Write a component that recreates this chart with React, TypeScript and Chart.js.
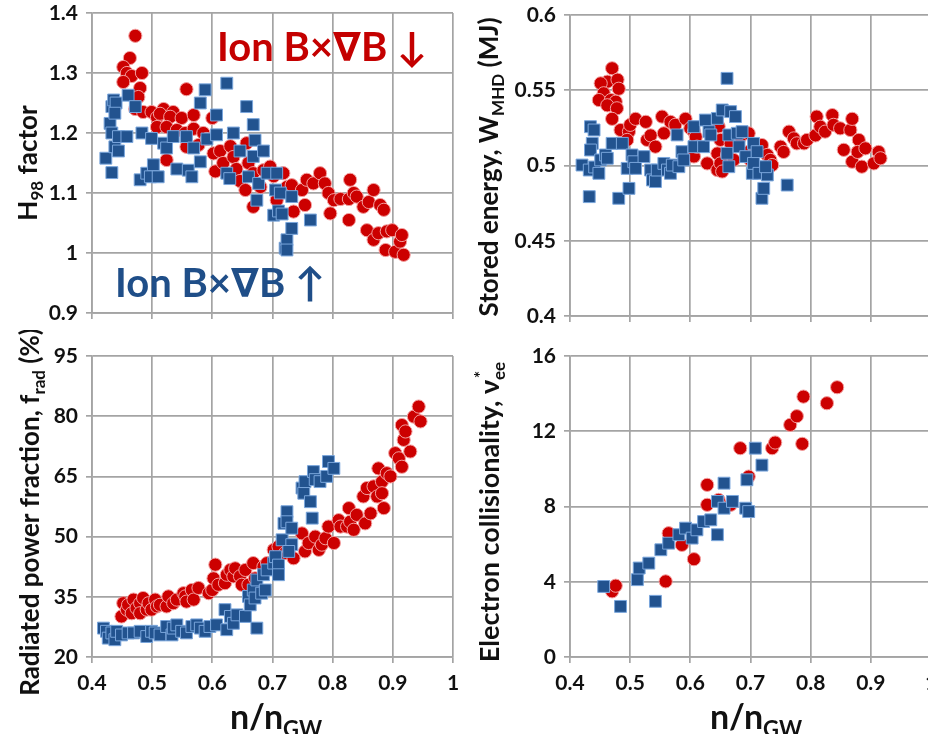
import React, { useEffect, useRef } from "react";
import { Chart, registerables } from "chart.js";
Chart.register(...registerables);

// ---------- DATA ----------
// Panel (a): H98 factor vs n/nGW
const h98RedX = [0.472,0.463,0.452,0.458,0.466,0.483,0.452,0.480,0.477,0.472,0.485,0.499,0.508,0.519,0.513,0.508,0.535,0.530,0.549,0.557,0.524,0.541,0.555,0.569,0.569,0.557,0.524,0.577,0.585,0.591,0.600,0.602,0.605,0.613,0.618,0.630,0.635,0.640,0.646,0.655,0.657,0.660,0.668,0.668,0.680,0.685,0.696,0.702,0.707,0.718,0.724,0.732,0.735,0.749,0.754,0.757,0.768,0.779,0.787,0.793,0.796,0.802,0.813,0.827,0.829,0.827,0.835,0.840,0.851,0.857,0.860,0.868,0.868,0.876,0.879,0.885,0.888,0.890,0.899,0.904,0.912,0.915,0.918];
const h98RedY = [1.362,1.325,1.310,1.300,1.295,1.300,1.285,1.275,1.260,1.240,1.235,1.235,1.226,1.240,1.232,1.210,1.235,1.227,1.225,1.273,1.210,1.205,1.200,1.230,1.207,1.177,1.155,1.180,1.200,1.190,1.225,1.166,1.136,1.170,1.150,1.178,1.160,1.140,1.120,1.105,1.183,1.150,1.133,1.077,1.110,1.138,1.144,1.128,1.088,1.133,1.110,1.113,1.069,1.105,1.080,1.122,1.116,1.133,1.116,1.100,1.066,1.088,1.090,1.055,1.122,1.090,1.100,1.094,1.077,1.038,1.085,1.105,1.022,1.033,1.080,1.072,1.005,1.036,1.038,1.002,1.019,1.030,0.997];
const h98BlueX = [0.423,0.433,0.430,0.433,0.436,0.440,0.438,0.433,0.438,0.444,0.444,0.460,0.458,0.472,0.483,0.480,0.491,0.499,0.502,0.497,0.510,0.519,0.524,0.535,0.541,0.557,0.560,0.566,0.569,0.580,0.580,0.588,0.591,0.607,0.607,0.624,0.624,0.629,0.635,0.646,0.657,0.660,0.668,0.668,0.671,0.674,0.677,0.685,0.691,0.702,0.705,0.707,0.713,0.710,0.716,0.721,0.724,0.732,0.732,0.763,0.724];
const h98BlueY = [1.158,1.134,1.216,1.244,1.255,1.250,1.233,1.200,1.177,1.194,1.170,1.263,1.194,1.244,1.200,1.122,1.133,1.191,1.147,1.127,1.127,1.183,1.175,1.194,1.140,1.194,1.138,1.127,1.175,1.152,1.250,1.272,1.190,1.230,1.197,1.283,1.133,1.124,1.200,1.170,1.244,1.127,1.214,1.161,1.188,1.088,1.116,1.170,1.133,1.063,1.105,1.133,1.100,1.070,1.065,1.008,1.022,1.094,1.041,1.055,1.005];

// Panel (b): stored energy WMHD (MJ)
const wRedX = [0.470,0.462,0.451,0.479,0.481,0.456,0.448,0.468,0.476,0.462,0.478,0.470,0.484,0.498,0.500,0.509,0.495,0.526,0.528,0.534,0.542,0.553,0.556,0.567,0.575,0.592,0.600,0.606,0.609,0.606,0.611,0.628,0.645,0.645,0.650,0.653,0.647,0.650,0.661,0.667,0.672,0.683,0.697,0.697,0.700,0.708,0.719,0.728,0.733,0.736,0.750,0.755,0.764,0.772,0.777,0.789,0.794,0.808,0.810,0.816,0.824,0.836,0.838,0.849,0.855,0.866,0.869,0.869,0.880,0.878,0.891,0.885,0.905,0.913,0.916];
const wRedY = [0.5646,0.5557,0.5546,0.557,0.551,0.548,0.5435,0.5435,0.5424,0.540,0.538,0.531,0.5236,0.5225,0.527,0.531,0.517,0.529,0.517,0.520,0.5125,0.5325,0.5214,0.529,0.527,0.531,0.5247,0.5225,0.519,0.506,0.5125,0.5014,0.508,0.497,0.5014,0.496,0.526,0.517,0.507,0.5147,0.5037,0.519,0.5214,0.509,0.5037,0.5104,0.5136,0.507,0.5037,0.5003,0.5125,0.509,0.5225,0.518,0.5147,0.5147,0.517,0.520,0.5325,0.5258,0.5225,0.5335,0.527,0.5247,0.5104,0.5236,0.531,0.5025,0.517,0.509,0.5114,0.4992,0.5014,0.509,0.5048];
const wBlueX = [0.420,0.432,0.434,0.440,0.437,0.434,0.432,0.441,0.448,0.451,0.459,0.462,0.470,0.487,0.481,0.498,0.495,0.503,0.506,0.509,0.523,0.534,0.537,0.542,0.545,0.556,0.562,0.567,0.570,0.578,0.581,0.586,0.589,0.606,0.606,0.622,0.625,0.631,0.634,0.645,0.653,0.661,0.661,0.664,0.664,0.667,0.675,0.678,0.681,0.686,0.692,0.703,0.705,0.705,0.711,0.714,0.719,0.722,0.728,0.725,0.761];
const wBlueY = [0.5003,0.4793,0.5258,0.5236,0.5147,0.5103,0.497,0.499,0.4948,0.5037,0.507,0.5048,0.5147,0.5147,0.4782,0.4848,0.4981,0.507,0.5025,0.4981,0.5059,0.497,0.4904,0.4893,0.497,0.5014,0.497,0.4948,0.5003,0.5203,0.4992,0.5092,0.5037,0.5258,0.5125,0.5125,0.5302,0.5225,0.5203,0.5313,0.5369,0.5579,0.5081,0.4992,0.5203,0.5358,0.5325,0.5214,0.5125,0.5225,0.5059,0.4948,0.5147,0.5014,0.5092,0.4948,0.4782,0.4848,0.4937,0.4992,0.487];

// Panel (c): radiated power fraction frad (%)
const fRedX = [0.449,0.452,0.458,0.460,0.466,0.469,0.474,0.480,0.480,0.485,0.491,0.494,0.499,0.505,0.508,0.513,0.524,0.527,0.535,0.541,0.552,0.555,0.557,0.566,0.569,0.577,0.594,0.600,0.602,0.605,0.610,0.621,0.624,0.630,0.635,0.638,0.646,0.649,0.655,0.660,0.668,0.671,0.685,0.691,0.702,0.710,0.721,0.727,0.735,0.749,0.754,0.760,0.771,0.777,0.782,0.788,0.793,0.802,0.810,0.813,0.824,0.827,0.829,0.835,0.840,0.851,0.854,0.857,0.863,0.868,0.874,0.876,0.882,0.882,0.885,0.890,0.896,0.904,0.910,0.915,0.915,0.918,0.921,0.929,0.935,0.943,0.946];
const fRedY = [30.1,33.4,31.8,33.0,30.9,34.3,32.2,33.4,30.9,34.7,31.8,33.4,31.8,34.3,32.6,33.0,32.6,35.1,33.4,34.3,35.9,35.1,33.8,36.7,34.3,37.2,35.9,36.7,39.6,43.0,38.0,38.4,40.5,41.7,40.1,42.1,40.1,38.0,41.7,38.0,43.4,39.6,42.5,43.4,46.7,47.5,45.9,46.7,44.6,50.8,46.3,48.4,50.0,46.7,48.0,49.6,52.5,48.4,54.1,52.5,52.5,57.1,53.7,51.7,55.4,60.0,53.3,62.1,55.8,62.5,60.0,67.0,63.7,60.8,57.1,65.8,65.0,70.8,69.5,67.4,77.8,74.1,76.2,71.2,79.9,82.4,78.7];
const fBlueX = [0.419,0.424,0.427,0.433,0.438,0.441,0.449,0.460,0.469,0.480,0.491,0.499,0.505,0.513,0.524,0.533,0.535,0.541,0.549,0.557,0.566,0.574,0.580,0.588,0.596,0.607,0.624,0.621,0.630,0.635,0.641,0.655,0.660,0.663,0.668,0.671,0.674,0.674,0.682,0.688,0.685,0.691,0.702,0.705,0.710,0.710,0.716,0.719,0.724,0.724,0.732,0.732,0.727,0.749,0.752,0.754,0.763,0.766,0.768,0.771,0.779,0.790,0.793,0.802];
const fBlueY = [27.2,26.4,24.7,26.0,24.3,26.4,25.5,26.0,26.0,26.4,25.1,26.4,26.0,25.5,27.6,25.5,27.2,28.0,26.4,26.0,27.6,28.0,27.2,26.4,27.6,28.0,26.8,31.8,30.1,28.4,30.5,30.1,35.1,33.0,36.7,34.7,27.2,39.2,35.9,36.7,40.5,41.7,43.4,45.0,42.9,40.5,49.2,53.3,56.2,53.7,52.1,48.0,46.3,62.1,60.8,63.7,58.7,54.6,66.2,64.2,63.7,65.0,68.7,67.0];

// Panel (d): electron collisionality
const nuRedX = [0.470,0.476,0.559,0.564,0.586,0.606,0.628,0.628,0.647,0.667,0.683,0.697,0.736,0.741,0.766,0.777,0.788,0.786,0.827,0.844];
const nuRedY = [3.49,3.79,4.02,6.58,5.96,5.20,9.15,8.09,8.35,8.09,11.1,9.59,11.1,11.4,12.34,12.8,13.84,11.33,13.49,14.34];
const nuBlueX = [0.456,0.484,0.512,0.515,0.531,0.542,0.551,0.564,0.581,0.592,0.603,0.611,0.622,0.634,0.645,0.645,0.656,0.656,0.670,0.692,0.694,0.697,0.708,0.719];
const nuBlueY = [3.75,2.69,4.11,4.73,4.99,2.96,5.70,6.05,6.50,6.85,6.32,6.76,7.20,7.29,8.27,6.50,9.24,7.91,8.27,7.91,9.42,7.73,11.1,10.2];

const xTicksMin = 0.4;
const xTicksMax = 1.0;

// ---------- STYLE ----------
const FONT = "Lato, 'Open Sans', 'DejaVu Sans', sans-serif";
const RED = "#c40000";
const BLUE_TXT = "#1f4e88";
const GRID = "#a4a4a4";

type Seg = { t: string; k?: "sub" | "sup" | "subsup"; t2?: string };
type Label = { segs: Seg[]; x: number; y: number; size: number; rot: boolean; color: string };

function drawRich(ctx: CanvasRenderingContext2D, l: Label) {
  const { segs, size } = l;
  ctx.save();
  ctx.translate(l.x, l.y);
  if (l.rot) ctx.rotate(-Math.PI / 2);
  const big = `bold ${size}px ${FONT}`;
  const small = `bold ${Math.round(size * 0.64)}px ${FONT}`;
  const widths = segs.map((s) => {
    ctx.font = s.k ? small : big;
    if (s.k === "subsup") return Math.max(ctx.measureText(s.t).width, ctx.measureText(s.t2 || "").width);
    return ctx.measureText(s.t).width;
  });
  const total = widths.reduce((a, b) => a + b, 0);
  let x = -total / 2;
  const base = size * 0.36;
  ctx.fillStyle = l.color;
  ctx.textAlign = "left";
  ctx.textBaseline = "alphabetic";
  segs.forEach((s, i) => {
    if (!s.k) {
      ctx.font = big;
      ctx.fillText(s.t, x, base);
    } else {
      ctx.font = small;
      if (s.k === "sub" || s.k === "subsup") ctx.fillText(s.t, x, base + size * 0.22);
      if (s.k === "sup") ctx.fillText(s.t, x, base - size * 0.45);
      if (s.k === "subsup") ctx.fillText(s.t2 || "", x + 2, base - size * 0.42);
    }
    x += widths[i];
  });
  ctx.restore();
}

const pts = (xs: number[], ys: number[]) => xs.map((x, i) => ({ x, y: ys[i] }));
const fmt = (v: any) => String(Number(Number(v).toFixed(3)));

type PanelProps = {
  left: number; top: number; width: number; height: number;
  padTop: number; padRight: number; yWidth: number; xHeight: number;
  yMin: number; yMax: number; yStep: number; showX: boolean;
  redX: number[]; redY: number[]; blueX: number[]; blueY: number[];
  labels: Label[];
};

function Panel(p: PanelProps) {
  const ref = useRef<HTMLCanvasElement>(null);
  useEffect(() => {
    const canvas = ref.current!;
    const richPlugin = {
      id: "rich",
      afterDraw(chart: any) {
        const ctx = chart.ctx as CanvasRenderingContext2D;
        p.labels.forEach((l) => drawRich(ctx, l));
      },
    };
    const chart = new Chart(canvas, {
      type: "scatter",
      data: {
        datasets: [
          {
            label: "Ion B×∇B ↑",
            data: pts(p.blueX, p.blueY),
            pointStyle: "rect",
            pointRadius: 8.4,
            backgroundColor: "#22538f",
            borderColor: "#7aa6dc",
            borderWidth: 1,
          },
          {
            label: "Ion B×∇B ↓",
            data: pts(p.redX, p.redY),
            pointStyle: "circle",
            pointRadius: 6.6,
            backgroundColor: "#cc0000",
            borderColor: "#f3a0a0",
            borderWidth: 1,
          },
        ],
      },
      options: {
        responsive: false,
        animation: false,
        events: [],
        layout: { padding: { top: p.padTop, right: p.padRight, left: 0, bottom: 0 } },
        plugins: { legend: { display: false }, tooltip: { enabled: false } },
        scales: {
          x: {
            type: "linear",
            min: xTicksMin,
            max: xTicksMax,
            afterFit: (s: any) => {
              s.height = p.xHeight;
              s.paddingLeft = 0; s.paddingRight = 0; s.paddingTop = 0; s.paddingBottom = 0;
            },
            ticks: {
              display: p.showX,
              stepSize: 0.1,
              padding: 8,
              color: "#111",
              font: { family: FONT, size: 21, weight: "bold" },
              callback: fmt,
            },
            grid: { color: GRID, lineWidth: 1.7, tickLength: 6, drawTicks: true },
            border: { color: GRID, width: 1.7 },
          },
          y: {
            type: "linear",
            min: p.yMin,
            max: p.yMax,
            afterFit: (s: any) => {
              s.width = p.yWidth;
              s.paddingLeft = 0; s.paddingRight = 0; s.paddingTop = 0; s.paddingBottom = 0;
            },
            ticks: {
              stepSize: p.yStep,
              padding: 8,
              color: "#111",
              font: { family: FONT, size: 21, weight: "bold" },
              callback: fmt,
            },
            grid: { color: GRID, lineWidth: 1.7, tickLength: 6 },
            border: { color: GRID, width: 1.7 },
          },
        },
      },
      plugins: [richPlugin],
    } as any);
    return () => chart.destroy();
  }, []);
  return (
    <canvas
      ref={ref}
      width={p.width}
      height={p.height}
      style={{ position: "absolute", left: p.left, top: p.top, width: p.width, height: p.height }}
    />
  );
}

const xTitle: Seg[] = [{ t: "n/n" }, { t: "GW", k: "sub" }];

export default function App() {
  return (
    <div style={{ position: "fixed", left: 0, top: 0, width: 928, height: 734, overflow: "hidden", background: "#fff" }}>
      <Panel
        left={0} top={0} width={464} height={330}
        padTop={13} padRight={11} yWidth={92} xHeight={17}
        yMin={0.9} yMax={1.4} yStep={0.1} showX={false}
        redX={h98RedX} redY={h98RedY} blueX={h98BlueX} blueY={h98BlueY}
        labels={[
          { segs: [{ t: "H" }, { t: "98", k: "sub" }, { t: " factor" }], x: 28, y: 163, size: 26, rot: true, color: "#111" },
          { segs: [{ t: "Ion B×∇B ↓" }], x: 322, y: 47, size: 40, rot: false, color: RED },
          { segs: [{ t: "Ion B×∇B ↑" }], x: 220, y: 283, size: 40, rot: false, color: BLUE_TXT },
        ]}
      />
      <Panel
        left={464} top={0} width={480} height={330}
        padTop={15} padRight={13} yWidth={106} xHeight={14}
        yMin={0.4} yMax={0.6} yStep={0.05} showX={false}
        redX={wRedX} redY={wRedY} blueX={wBlueX} blueY={wBlueY}
        labels={[
          { segs: [{ t: "Stored energy, W" }, { t: "MHD", k: "sub" }, { t: " (MJ)" }], x: 25, y: 167, size: 26, rot: true, color: "#111" },
        ]}
      />
      <Panel
        left={0} top={330} width={464} height={404}
        padTop={26} padRight={11} yWidth={92} xHeight={77}
        yMin={20} yMax={95} yStep={15} showX={true}
        redX={fRedX} redY={fRedY} blueX={fBlueX} blueY={fBlueY}
        labels={[
          { segs: [{ t: "Radiated power fraction, f" }, { t: "rad", k: "sub" }, { t: " (%)" }], x: 30, y: 182, size: 26, rot: true, color: "#111" },
          { segs: xTitle, x: 276, y: 387, size: 34, rot: false, color: "#111" },
        ]}
      />
      <Panel
        left={464} top={330} width={480} height={404}
        padTop={26} padRight={13} yWidth={106} xHeight={77}
        yMin={0} yMax={16} yStep={4} showX={true}
        redX={nuRedX} redY={nuRedY} blueX={nuBlueX} blueY={nuBlueY}
        labels={[
          { segs: [{ t: "Electron collisionality, ν" }, { t: "ee", k: "subsup", t2: "*" }], x: 25, y: 182, size: 27, rot: true, color: "#111" },
          { segs: xTitle, x: 292, y: 387, size: 34, rot: false, color: "#111" },
        ]}
      />
    </div>
  );
}
